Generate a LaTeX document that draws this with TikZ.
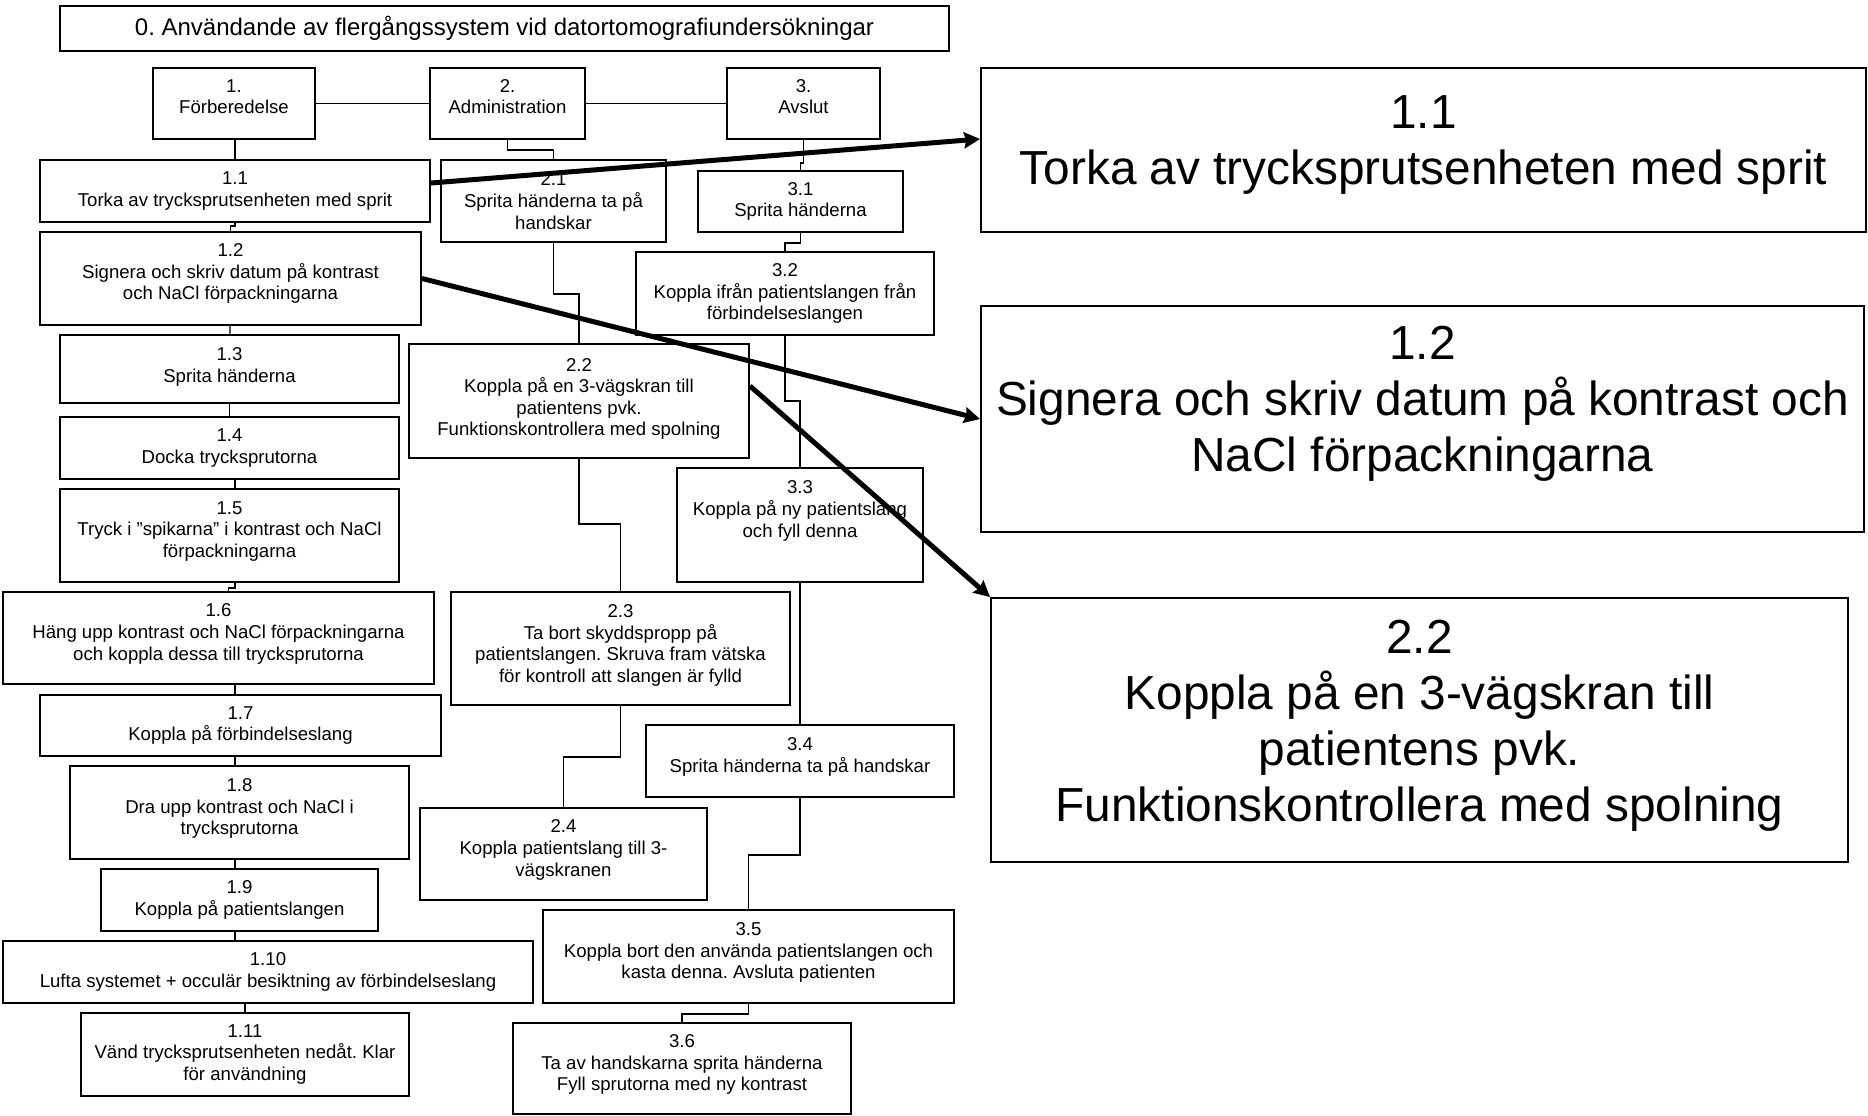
\documentclass[tikz,border=0pt]{standalone}
\usepackage{fontspec}
\setmainfont{Liberation Sans}
\usepackage{tikz}
\usetikzlibrary{arrows.meta}
\newcommand{\lowpad}[1]{\rule[-#1]{0pt}{0pt}}
\frenchspacing

\begin{document}
\begin{tikzpicture}[x=.5pt,y=-.5pt,
 box/.style={draw,line width=1pt,align=center,inner sep=1pt,font=\fontsize{9.3}{10.8}\selectfont},
 big/.style={draw,line width=.9pt,align=center,inner sep=1pt,font=\fontsize{23.9}{28}\selectfont},
 wh/.style 2 args={minimum width=#1*.5pt,minimum height=#2*.5pt},
 link/.style={line width=.6pt},
 bigarrow/.style={line width=2.5pt,-{Stealth[length=8pt,width=8pt,inset=1pt]}}]
 \useasboundingbox (0,0) rectangle (1868,1115);
 % title and the three phases
 \node[box,wh={889}{45},font=\fontsize{12}{14}\selectfont] (t0) at (504.5,28.5) {0. Användande av flergångssystem vid datortomografiundersökningar};
 \node[box,wh={162}{71}] (b1) at (234,103.5) {1.\\Förberedelse\lowpad{7pt}};
 \node[box,wh={155}{71}] (b2) at (507.5,103.5) {2.\\Administration\lowpad{7pt}};
 \node[box,wh={153}{71}] (b3) at (803.5,103.5) {3.\\Avslut\lowpad{7pt}};
 \coordinate (sp1) at (235,0);
 % 1. Förberedelse
 \node[box,wh={390}{62}] (b11) at (235,191) {1.1\\Torka av trycksprutsenheten med sprit};
 \node[box,wh={381}{93}] (b12) at (230.5,278.5) {1.2\\Signera och skriv datum på kontrast\\och NaCl förpackningarna\lowpad{7pt}};
 \node[box,wh={339}{68}] (b13) at (229.5,369) {1.3\\Sprita händerna\lowpad{4pt}};
 \node[box,wh={339}{62}] (b14) at (229.5,448) {1.4\\Docka trycksprutorna};
 \node[box,wh={339}{93}] (b15) at (229.5,535.5) {1.5\\Tryck i ”spikarna” i kontrast och NaCl\\förpackningarna\lowpad{6pt}};
 \node[box,wh={431}{92}] (b16) at (218.5,638) {1.6\\Häng upp kontrast och NaCl förpackningarna\\och koppla dessa till trycksprutorna\lowpad{6pt}};
 \node[box,wh={401}{61}] (b17) at (240.5,725.5) {1.7\\Koppla på förbindelseslang};
 \node[box,wh={339}{93}] (b18) at (239.5,812.5) {1.8\\Dra upp kontrast och NaCl i\\trycksprutorna\lowpad{6pt}};
 \node[box,wh={277}{62}] (b19) at (239.5,900) {1.9\\Koppla på patientslangen};
 \node[box,wh={530}{62}] (b110) at (268,972) {1.10\\Lufta systemet + occulär besiktning av förbindelseslang};
 \node[box,wh={328}{83}] (b111) at (245,1054.5) {1.11\\Vänd trycksprutsenheten nedåt. Klar\\för användning};
 % 2. Administration
 \node[box,wh={225}{82}] (b21) at (553.5,201) {2.1\\Sprita händerna ta på\\handskar};
 \node[box,wh={340}{114}] (b22) at (579,401) {2.2\\Koppla på en 3-vägskran till\\patientens pvk.\\Funktionskontrollera med spolning\lowpad{4pt}};
 \node[box,wh={339}{113}] (b23) at (620.5,648.5) {2.3\\Ta bort skyddspropp på\\patientslangen. Skruva fram vätska\\för kontroll att slangen är fylld\lowpad{5pt}};
 \node[box,wh={287}{92}] (b24) at (563.5,854) {2.4\\Koppla patientslang till 3-\\vägskranen\lowpad{6pt}};
 % 3. Avslut
 \node[box,wh={205}{61}] (b31) at (800.5,201.5) {3.1\\Sprita händerna};
 \node[box,wh={298}{83}] (b32) at (785,293.5) {3.2\\Koppla ifrån patientslangen från\\förbindelseslangen};
 \node[box,wh={246}{114}] (b33) at (800,525) {3.3\\Koppla på ny patientslang\\och fyll denna\lowpad{16pt}};
 \node[box,wh={308}{72}] (b34) at (800,761) {3.4\\Sprita händerna ta på handskar\lowpad{6pt}};
 \node[box,wh={411}{93}] (b35) at (748.5,956.5) {3.5\\Koppla bort den använda patientslangen och\\kasta denna. Avsluta patienten\lowpad{6pt}};
 \node[box,wh={338}{91}] (b36) at (682,1068.5) {3.6\\Ta av handskarna sprita händerna\\Fyll sprutorna med ny kontrast\lowpad{6pt}};
 % enlarged steps
 \node[big,wh={885}{164}] (B11) at (1423.5,150) {1.1\\Torka av trycksprutsenheten med sprit\lowpad{10pt}};
 \node[big,wh={883}{226}] (B12) at (1422.5,419) {1.2\\Signera och skriv datum på kontrast och\\NaCl förpackningarna\lowpad{20pt}};
 \node[big,wh={857}{264}] (B22) at (1419.5,730) {2.2\\Koppla på en 3-vägskran till\\patientens pvk.\\Funktionskontrollera med spolning\lowpad{9pt}};
 % connectors
 \draw[link] (b1) -- (b2) -- (b3);
 \draw[link] (b1.south -| sp1) -- (b11.north -| sp1);
 \draw[link] (b11.south) -- ++(0,3) -| (b12.north);
 \draw[link] (b12) -- (b13);
 \draw[link] (b13) -- (b14);
 \draw[link] (b14.south -| sp1) -- (b15.north -| sp1);
 \draw[link] (b15.south -| sp1) -- ++(0,5) -| ([xshift=5pt]b16.north);
 \draw[link] (b16.south -| sp1) -- (b17.north -| sp1);
 \draw[link] (b17.south -| sp1) -- (b18.north -| sp1);
 \draw[link] (b18.south -| sp1) -- (b19.north -| sp1);
 \draw[link] (b19.south -| sp1) -- (b110.north -| sp1);
 \draw[link] (b111.north |- b110.south) -- (b111.north);
 \draw[link] (b2.south) -- ++(0,10) -| (b21.north);
 \draw[link] (b21.south) -- ++(0,51) -| (b22.north);
 \draw[link] (b22.south) -- ++(0,65) -| (b23.north);
 \draw[link] (b23.south) -- ++(0,51) -| (b24.north);
 \draw[link] (b3.south) -- ++(0,23) -| (b31.north);
 \draw[link] (b31.south) -- ++(0,10) -| (b32.north);
 \draw[link] (b32.south) -- ++(0,65) -| (b33.north);
 \draw[link] (b33) -- (b34);
 \draw[link] (b34.south) -- ++(0,57) -| (b35.north);
 \draw[link] (b35.south) -- ++(0,10) -| (b36.north);
 % pointers to the enlarged steps
 \draw[bigarrow] ([yshift=4pt]b11.east) -- ([yshift=5.5pt]B11.west);
 \draw[bigarrow] (b12.east) -- (B12.west);
 \draw[bigarrow] ([yshift=7.5pt]b22.east) -- (B22.north west);
\end{tikzpicture}
\end{document}
